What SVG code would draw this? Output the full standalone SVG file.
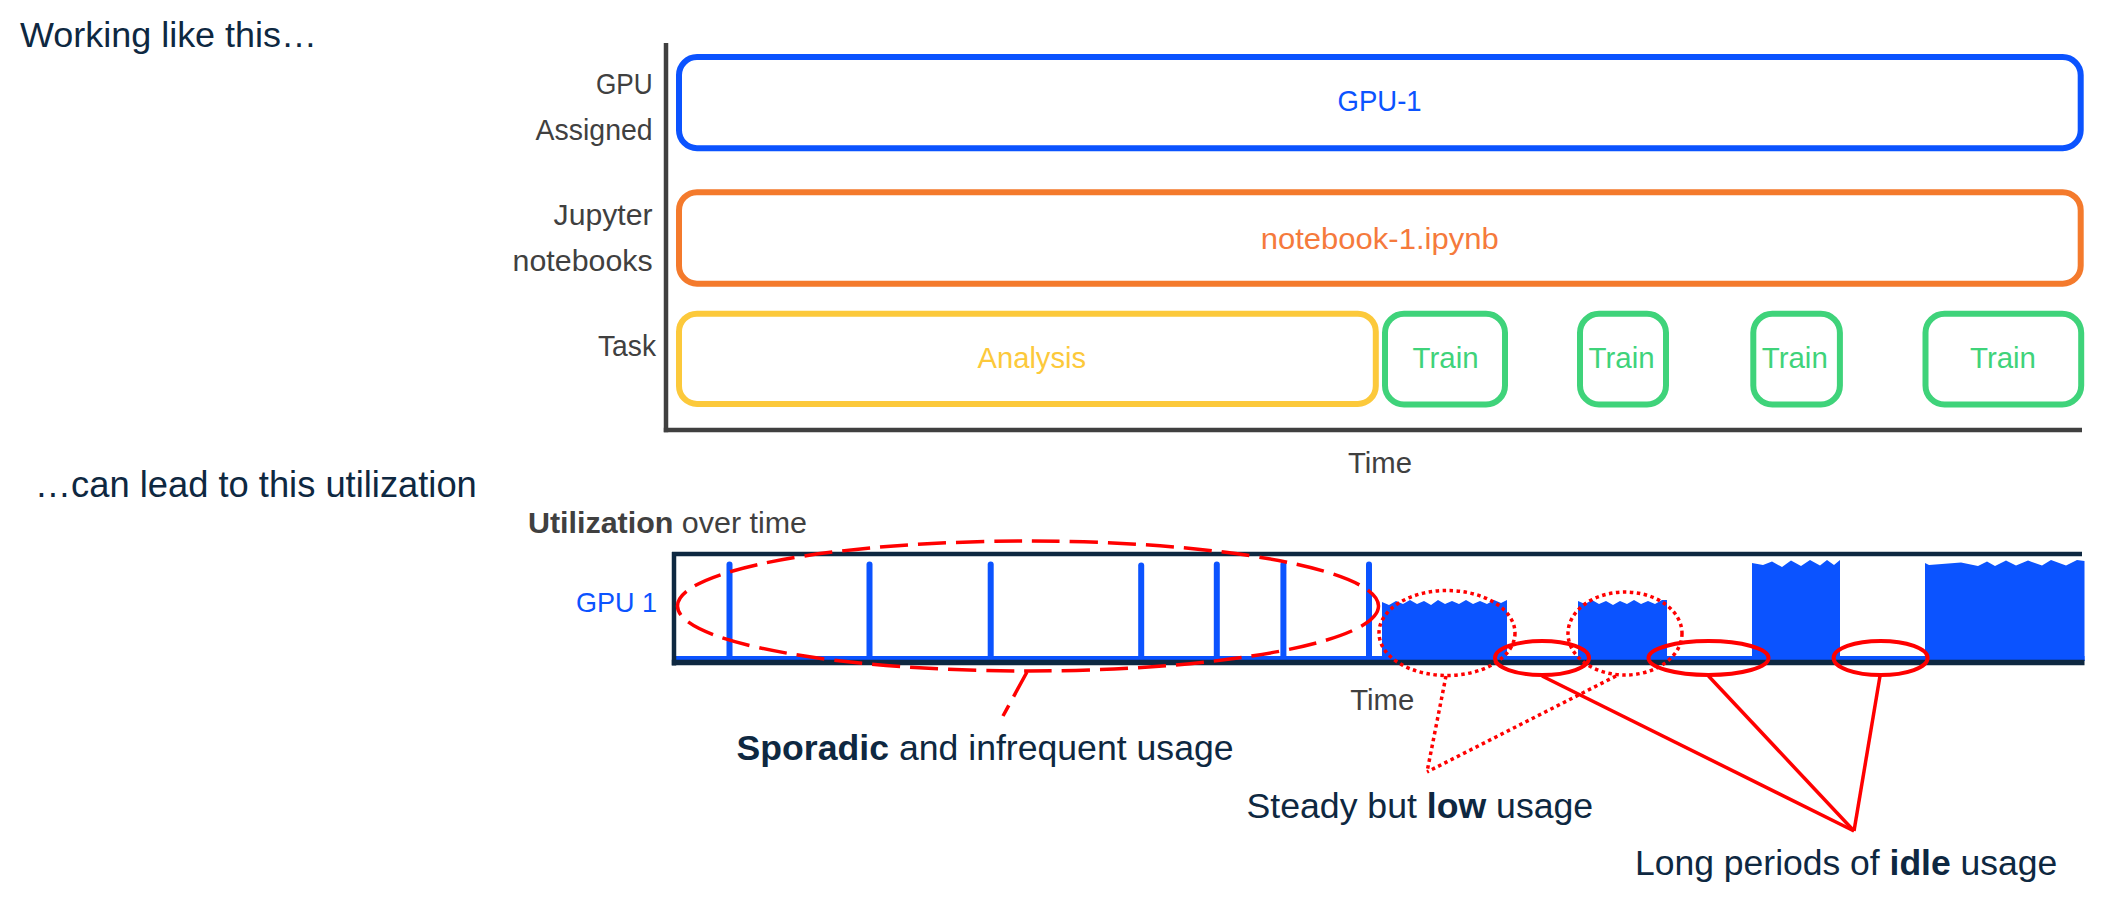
<svg xmlns="http://www.w3.org/2000/svg" width="2112" height="912" viewBox="0 0 2112 912">
<style>
  text { font-family: "Liberation Sans", Arial, sans-serif; }
  .navy { fill: #0E2841; }
  .gray { fill: #404040; }
  .lbl { font-size: 29px; fill: #404040; }
  .ann { font-size: 35.5px; fill: #0E2841; }
  .b { font-weight: bold; }
  .box { fill: none; stroke-width: 6; }
  .axis { stroke: #404040; stroke-width: 4.5; fill: none; }
  .frame { stroke: #0E2841; fill: none; }
  .spike { stroke: #0B53FF; stroke-width: 6; stroke-linecap: round; }
  .bar { fill: #0B53FF; }
  .dash { fill: none; stroke: #FF0000; stroke-width: 3.5; stroke-dasharray: 28 10; }
  .dot { fill: none; stroke: #FF0000; stroke-width: 3.5; stroke-dasharray: 3.5 3.5; }
  .solid { fill: none; stroke: #FF0000; stroke-width: 4; }
  .solidline { fill: none; stroke: #FF0000; stroke-width: 3.5; }
</style>
<rect width="2112" height="912" fill="#FFFFFF"/>

<g id="titles">
  <text x="20" y="47" font-size="35" class="navy" textLength="297" lengthAdjust="spacingAndGlyphs">Working like this…</text>
  <text x="34.8" y="497.3" font-size="36" class="navy" textLength="442" lengthAdjust="spacingAndGlyphs">…can lead to this utilization</text>
</g>

<g id="top-chart-axes">
  <line class="axis" x1="666" y1="43" x2="666" y2="432.2"/>
  <line class="axis" x1="663.8" y1="430" x2="2082" y2="430"/>
  <text class="lbl" x="1348" y="472.7" textLength="64" lengthAdjust="spacingAndGlyphs">Time</text>
</g>

<g id="row-labels">
  <text class="lbl" x="652.6" y="94" text-anchor="end" textLength="56.7" lengthAdjust="spacingAndGlyphs">GPU</text>
  <text class="lbl" x="652.6" y="140" text-anchor="end" textLength="117" lengthAdjust="spacingAndGlyphs">Assigned</text>
  <text class="lbl" x="652.6" y="225" text-anchor="end" textLength="99" lengthAdjust="spacingAndGlyphs">Jupyter</text>
  <text class="lbl" x="652.6" y="271" text-anchor="end" textLength="140" lengthAdjust="spacingAndGlyphs">notebooks</text>
  <text class="lbl" x="656" y="356" text-anchor="end" textLength="58" lengthAdjust="spacingAndGlyphs">Task</text>
</g>

<g id="gpu-box">
  <rect class="box" x="679" y="57" width="1401.7" height="91.2" rx="18" stroke="#0B53FF"/>
  <text x="1337.6" y="111" font-size="29" fill="#0B53FF" textLength="84" lengthAdjust="spacingAndGlyphs">GPU-1</text>
</g>

<g id="notebook-box">
  <rect class="box" x="679" y="192.2" width="1401.7" height="91.5" rx="18" stroke="#F47A2C"/>
  <text x="1260.7" y="249.3" font-size="29" fill="#F57A3C" textLength="238" lengthAdjust="spacingAndGlyphs">notebook-1.ipynb</text>
</g>

<g id="analysis-box">
  <rect class="box" x="679" y="313.7" width="696.8" height="90.3" rx="18" stroke="#FCC93B"/>
  <text x="977.5" y="368.3" font-size="29" fill="#FCC93B" textLength="108.6" lengthAdjust="spacingAndGlyphs">Analysis</text>
</g>

<g id="train-1">
  <rect class="box" x="1385" y="313.7" width="120" height="90.8" rx="19" stroke="#3FD37A"/>
  <text x="1412.6" y="368.3" font-size="29" fill="#3FD37A" textLength="66" lengthAdjust="spacingAndGlyphs">Train</text>
</g>
<g id="train-2">
  <rect class="box" x="1580" y="313.7" width="86" height="90.8" rx="19" stroke="#3FD37A"/>
  <text x="1588.6" y="368.3" font-size="29" fill="#3FD37A" textLength="66" lengthAdjust="spacingAndGlyphs">Train</text>
</g>
<g id="train-3">
  <rect class="box" x="1753.3" y="313.7" width="86.6" height="90.8" rx="19" stroke="#3FD37A"/>
  <text x="1761.8" y="368.3" font-size="29" fill="#3FD37A" textLength="66" lengthAdjust="spacingAndGlyphs">Train</text>
</g>
<g id="train-4">
  <rect class="box" x="1925.5" y="313.7" width="155.7" height="90.8" rx="19" stroke="#3FD37A"/>
  <text x="1970" y="368.3" font-size="29" fill="#3FD37A" textLength="66" lengthAdjust="spacingAndGlyphs">Train</text>
</g>

<g id="utilization-chart">
  <text x="528" y="533.3" font-size="29" class="gray" textLength="279" lengthAdjust="spacingAndGlyphs"><tspan class="b">Utilization</tspan> over time</text>
  <text x="576" y="611.7" font-size="28" fill="#0B53FF" textLength="81" lengthAdjust="spacingAndGlyphs">GPU 1</text>
  <rect class="bar" x="676" y="656" width="1408.5" height="5"/>
  <line class="spike" x1="729.5" y1="564.5" x2="729.5" y2="658"/>
  <line class="spike" x1="869.5" y1="564.5" x2="869.5" y2="658"/>
  <line class="spike" x1="990.7" y1="564.5" x2="990.7" y2="658"/>
  <line class="spike" x1="1141.2" y1="565.5" x2="1141.2" y2="658" stroke-width="9"/>
  <line class="spike" x1="1216.8" y1="564.5" x2="1216.8" y2="658"/>
  <line class="spike" x1="1283.4" y1="564.5" x2="1283.4" y2="658"/>
  <line class="spike" x1="1369" y1="564.5" x2="1369" y2="658"/>
  <path class="bar" d="M1382,661 L1382,602 L1389,605 L1396,601 L1403,604 L1410,600 L1417,604 L1424,601 L1431,605 L1438,600 L1445,604 L1452,601 L1459,604 L1466,600 L1473,604 L1480,601 L1487,604 L1494,600 L1501,603 L1507,600 L1507,661 Z"/>
  <path class="bar" d="M1578,661 L1578,601 L1585,604 L1592,600 L1599,604 L1606,601 L1613,605 L1620,601 L1627,604 L1634,600 L1641,604 L1648,601 L1655,604 L1662,600 L1667,600 L1667,661 Z"/>
  <path class="bar" d="M1752,661 L1752,563 L1763,565 L1772,561.5 L1782,567 L1791,560.5 L1801,566 L1810,560 L1820,565.5 L1827,560 L1834,565 L1840,560 L1840,661 Z"/>
  <path class="bar" d="M1925,661 L1925,563 L1929,565 L1961,562.5 L1978,566 L1987,561.5 L1995,566 L2006,560.5 L2016,565.5 L2028,560.5 L2042,565.5 L2051,560 L2066,565.5 L2077,560 L2084.5,561 L2084.5,661 Z"/>
  <line class="frame" x1="672" y1="554" x2="2082" y2="554" stroke-width="4.5"/>
  <line class="frame" x1="674" y1="552" x2="674" y2="665.5" stroke-width="4.5"/>
  <line class="frame" x1="671.8" y1="662.5" x2="2084.5" y2="662.5" stroke-width="5.5"/>
  <text class="lbl" x="1350.3" y="710" textLength="64" lengthAdjust="spacingAndGlyphs">Time</text>
</g>

<g id="highlight-sporadic">
  <ellipse class="dash" cx="1028" cy="606" rx="350.5" ry="65"/>
</g>
<g id="highlight-low">
  <ellipse class="dot" cx="1447" cy="633" rx="68" ry="42.5"/>
  <ellipse class="dot" cx="1625" cy="633.5" rx="57" ry="41.5"/>
</g>
<g id="highlight-idle">
  <ellipse class="solid" cx="1542" cy="658" rx="47" ry="17"/>
  <ellipse class="solid" cx="1708.5" cy="658" rx="60" ry="17"/>
  <ellipse class="solid" cx="1880.6" cy="658" rx="47" ry="17"/>
</g>

<g id="connectors">
  <line class="dash" x1="1027" y1="672" x2="1003" y2="716"/>
  <line class="dot" x1="1446" y1="676" x2="1427" y2="772"/>
  <line class="dot" x1="1616" y1="676" x2="1427" y2="772"/>
  <line class="solidline" x1="1542" y1="676" x2="1854" y2="831"/>
  <line class="solidline" x1="1708.5" y1="676" x2="1854" y2="831"/>
  <line class="solidline" x1="1880" y1="676" x2="1854" y2="831"/>
</g>

<g id="annotations">
  <text class="ann" x="736.6" y="760" textLength="497" lengthAdjust="spacingAndGlyphs"><tspan class="b">Sporadic</tspan> and infrequent usage</text>
  <text class="ann" x="1246.5" y="818.3" textLength="346.7" lengthAdjust="spacingAndGlyphs">Steady but <tspan class="b">low</tspan> usage</text>
  <text class="ann" x="1635" y="875" textLength="422.3" lengthAdjust="spacingAndGlyphs">Long periods of <tspan class="b">idle</tspan> usage</text>
</g>
</svg>
